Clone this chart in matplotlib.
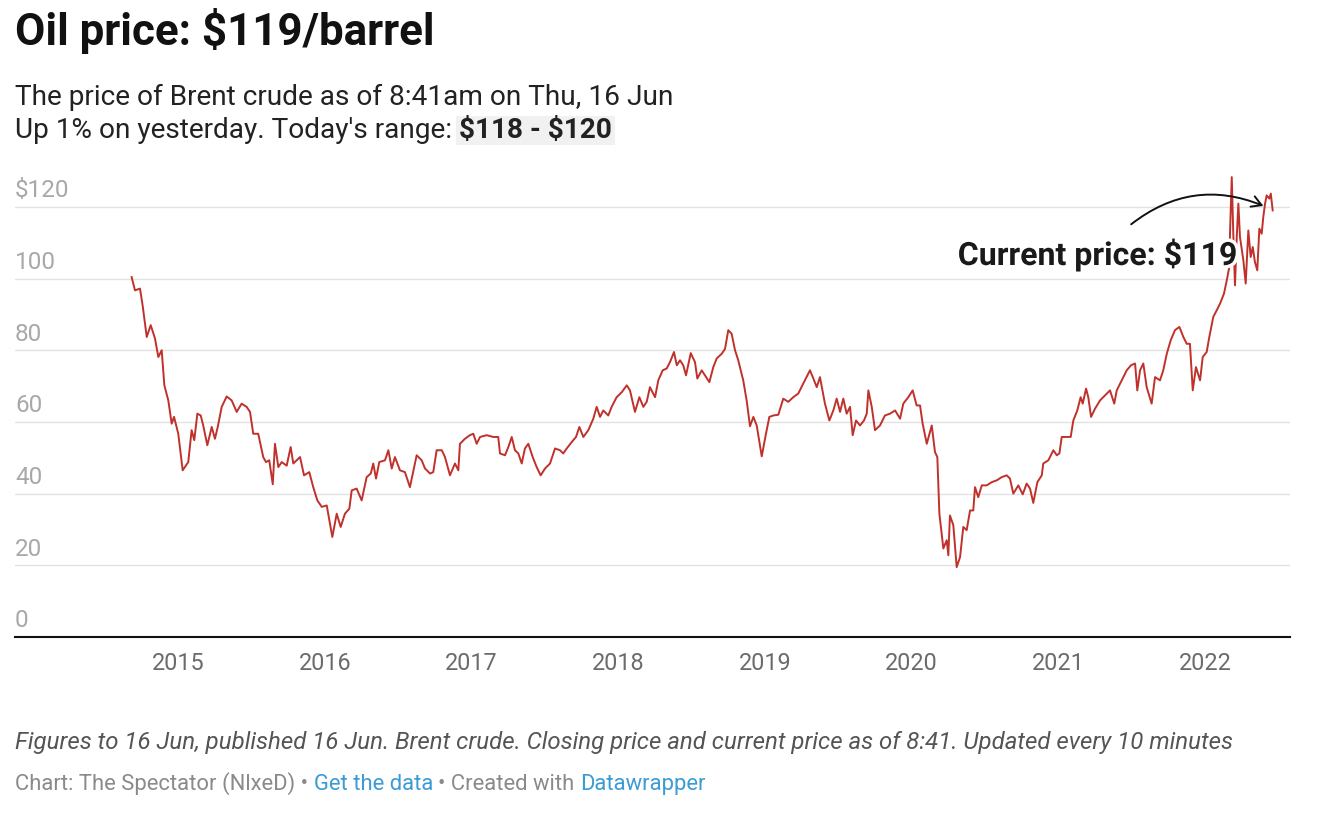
import matplotlib
matplotlib.use("Agg")
import matplotlib.pyplot as plt
import matplotlib.patheffects as pe
from matplotlib.patches import FancyArrowPatch, Rectangle

# Brent crude (decimal years, $/barrel)
years = [
    2014.684, 2014.707, 2014.741, 2014.759, 2014.787, 2014.814, 2014.843, 2014.866, 2014.889, 2014.907,
    2014.934, 2014.957, 2014.973, 2015.002, 2015.032, 2015.070, 2015.093, 2015.111, 2015.132, 2015.155,
    2015.172, 2015.200, 2015.230, 2015.252, 2015.271, 2015.298, 2015.332, 2015.366, 2015.400, 2015.434,
    2015.468, 2015.491, 2015.513, 2015.547, 2015.581, 2015.600, 2015.622, 2015.646, 2015.661, 2015.684,
    2015.707, 2015.741, 2015.768, 2015.786, 2015.832, 2015.859, 2015.895, 2015.922, 2015.950, 2015.980,
    2016.014, 2016.036, 2016.052, 2016.082, 2016.109, 2016.138, 2016.168, 2016.184, 2016.218, 2016.252,
    2016.286, 2016.314, 2016.331, 2016.350, 2016.372, 2016.411, 2016.434, 2016.457, 2016.479, 2016.513,
    2016.547, 2016.581, 2016.627, 2016.661, 2016.684, 2016.718, 2016.740, 2016.763, 2016.798, 2016.820,
    2016.854, 2016.888, 2016.911, 2016.922, 2016.956, 2016.990, 2017.013, 2017.036, 2017.059, 2017.104,
    2017.149, 2017.183, 2017.195, 2017.229, 2017.252, 2017.275, 2017.297, 2017.320, 2017.343, 2017.365,
    2017.388, 2017.418, 2017.445, 2017.472, 2017.502, 2017.536, 2017.570, 2017.604, 2017.626, 2017.650,
    2017.684, 2017.713, 2017.736, 2017.763, 2017.797, 2017.831, 2017.854, 2017.877, 2017.899, 2017.933,
    2017.956, 2017.990, 2018.025, 2018.059, 2018.081, 2018.115, 2018.145, 2018.172, 2018.195, 2018.217,
    2018.252, 2018.274, 2018.304, 2018.331, 2018.354, 2018.381, 2018.400, 2018.422, 2018.444, 2018.463,
    2018.495, 2018.524, 2018.540, 2018.570, 2018.592, 2018.622, 2018.649, 2018.672, 2018.706, 2018.729,
    2018.751, 2018.774, 2018.797, 2018.819, 2018.853, 2018.877, 2018.899, 2018.922, 2018.945, 2018.979,
    2019.008, 2019.031, 2019.058, 2019.092, 2019.126, 2019.160, 2019.194, 2019.228, 2019.262, 2019.308,
    2019.331, 2019.354, 2019.376, 2019.410, 2019.440, 2019.467, 2019.490, 2019.513, 2019.535, 2019.558,
    2019.581, 2019.599, 2019.622, 2019.649, 2019.676, 2019.695, 2019.706, 2019.729, 2019.751, 2019.785,
    2019.819, 2019.853, 2019.888, 2019.922, 2019.944, 2019.978, 2020.008, 2020.035, 2020.058, 2020.076,
    2020.104, 2020.138, 2020.160, 2020.176, 2020.190, 2020.217, 2020.240, 2020.251, 2020.262, 2020.285,
    2020.308, 2020.331, 2020.353, 2020.376, 2020.399, 2020.421, 2020.433, 2020.455, 2020.479, 2020.513,
    2020.547, 2020.581, 2020.615, 2020.649, 2020.671, 2020.694, 2020.728, 2020.758, 2020.785, 2020.808,
    2020.830, 2020.858, 2020.888, 2020.898, 2020.933, 2020.967, 2020.990, 2021.008, 2021.024, 2021.058,
    2021.085, 2021.103, 2021.130, 2021.153, 2021.167, 2021.190, 2021.205, 2021.224, 2021.251, 2021.285,
    2021.319, 2021.353, 2021.382, 2021.399, 2021.433, 2021.467, 2021.496, 2021.524, 2021.539, 2021.558,
    2021.580, 2021.603, 2021.637, 2021.660, 2021.694, 2021.716, 2021.740, 2021.767, 2021.796, 2021.826,
    2021.853, 2021.876, 2021.898, 2021.917, 2021.939, 2021.967, 2021.985, 2022.012, 2022.030, 2022.057,
    2022.080, 2022.103, 2022.130, 2022.149, 2022.166, 2022.171, 2022.183, 2022.194, 2022.205, 2022.217,
    2022.228, 2022.239, 2022.262, 2022.278, 2022.296, 2022.312, 2022.326, 2022.341, 2022.357, 2022.371,
    2022.387, 2022.398, 2022.410, 2022.421, 2022.439, 2022.449, 2022.462,
]
prices = [
    100.4, 96.7, 97.2, 92.5, 83.7, 87.0, 83.3, 78.1, 80.0, 70.2,
    66.0, 59.5, 61.4, 56.7, 46.5, 48.8, 57.7, 54.9, 62.3, 61.8,
    59.0, 53.5, 58.6, 55.3, 58.6, 64.2, 67.1, 66.0, 62.8, 65.1,
    64.2, 62.8, 56.7, 56.7, 50.2, 48.8, 49.3, 42.6, 53.9, 47.4,
    48.8, 47.8, 53.0, 48.4, 50.2, 45.1, 46.0, 41.8, 38.1, 36.3,
    36.7, 31.6, 27.9, 34.4, 30.7, 34.4, 35.8, 40.9, 41.4, 38.1,
    44.6, 45.6, 48.4, 44.2, 48.8, 49.3, 52.1, 47.0, 50.2, 46.5,
    46.0, 41.8, 50.7, 49.3, 47.0, 45.6, 46.0, 52.1, 52.1, 50.2,
    45.1, 48.4, 46.5, 53.9, 55.3, 56.3, 56.7, 53.9, 55.8, 56.3,
    55.8, 55.8, 51.2, 50.7, 53.0, 55.8, 52.1, 51.2, 48.4, 52.6,
    53.9, 50.2, 47.4, 45.1, 47.0, 48.4, 52.6, 52.1, 51.2, 52.6,
    54.4, 55.8, 58.6, 55.8, 57.7, 60.9, 64.2, 61.4, 63.2, 61.8,
    64.2, 66.9, 68.3, 70.2, 68.8, 62.8, 66.9, 64.2, 65.6, 69.7,
    66.9, 71.6, 74.4, 74.9, 76.7, 79.5, 75.8, 77.2, 75.8, 73.0,
    79.2, 76.7, 72.1, 74.4, 73.0, 71.1, 75.3, 77.7, 79.0, 80.4,
    85.6, 84.6, 80.0, 77.2, 71.6, 65.8, 58.8, 61.4, 59.0, 50.4,
    56.7, 61.4, 61.8, 62.0, 66.5, 65.6, 66.9, 67.9, 70.7, 74.4,
    72.1, 69.7, 72.5, 65.1, 60.4, 63.2, 66.5, 62.8, 66.5, 62.3,
    64.2, 56.3, 60.4, 59.0, 60.4, 62.3, 68.8, 64.2, 57.7, 59.0,
    61.8, 62.3, 63.2, 60.9, 65.1, 66.9, 68.8, 64.6, 64.6, 59.5,
    53.9, 59.0, 51.6, 50.2, 34.4, 24.7, 27.0, 22.8, 33.9, 31.2,
    19.5, 22.3, 30.7, 29.8, 35.3, 35.3, 41.8, 39.0, 42.3, 42.3,
    43.2, 43.7, 44.6, 45.1, 44.2, 40.0, 42.3, 39.8, 42.8, 41.4,
    37.4, 43.2, 45.1, 48.4, 49.3, 52.1, 50.7, 51.2, 55.8, 55.8,
    55.8, 60.4, 63.2, 66.9, 65.1, 69.3, 66.9, 61.4, 63.7, 66.0,
    67.4, 68.8, 65.1, 68.8, 71.6, 74.4, 75.8, 76.3, 68.8, 74.4,
    76.3, 69.7, 65.1, 72.5, 71.6, 74.4, 79.0, 82.8, 85.6, 86.5,
    83.7, 81.8, 81.8, 68.8, 75.3, 71.6, 78.1, 79.5, 83.7, 89.3,
    91.1, 93.0, 95.8, 99.5, 103.2, 112.5, 128.3, 111.6, 98.1, 111.6,
    120.9, 111.6, 105.1, 98.6, 113.4, 106.0, 108.8, 104.6, 102.3, 113.9,
    112.5, 117.2, 120.9, 123.2, 122.3, 123.7, 119.0,
]

x_ticks = [2015, 2016, 2017, 2018, 2019, 2020, 2021, 2022]
y_ticks = [0, 20, 40, 60, 80, 100, 120]
y_labels = ["0", "20", "40", "60", "80", "100", "$120"]

W, H = 1330, 818
plt.rcParams['font.family'] = ['Roboto', 'DejaVu Sans']

fig = plt.figure(figsize=(W / 100, H / 100), dpi=100)
fig.patch.set_facecolor('white')


def fx(x):
    return x / W


def fy(y):
    return 1 - y / H


ax = fig.add_axes([fx(15), fy(637), (1290 - 15) / W, (637 - 171) / H])
ax.set_xlim(2013.889, 2022.580)
ax.set_ylim(0, 130)

ax.plot(years, prices, color='#c0312b', lw=1.4, zorder=3, solid_joinstyle='round')

# grid + axis
ax.set_yticks(y_ticks[1:])
ax.grid(axis='y', color='#e2e2e2', lw=1.0, zorder=0)
ax.tick_params(axis='y', length=0, labelleft=False)
for side in ['top', 'right', 'left']:
    ax.spines[side].set_visible(False)
ax.spines['bottom'].set_color('#111111')
ax.spines['bottom'].set_linewidth(1.5)
ax.set_xticks(x_ticks)
ax.set_xticklabels([str(y) for y in x_ticks])
ax.tick_params(axis='x', length=0, pad=11, labelsize=16.8, labelcolor='#6b6b6b')

for v, lab in zip(y_ticks, y_labels):
    ax.annotate(lab, xy=(0, v), xycoords=ax.get_yaxis_transform(),
                xytext=(0, 7), textcoords='offset points', parse_math=False,
                ha='left', va='baseline', fontsize=17.5, color='#a8a8a8')

# header
fig.text(fx(15), fy(45), "Oil price: $119/barrel", fontsize=31.6, fontweight='bold',
         color='#111111', ha='left', va='baseline', parse_math=False)
fig.text(fx(15), fy(105), "The price of Brent crude as of 8:41am on Thu, 16 Jun",
         fontsize=20.2, color='#222222', ha='left', va='baseline')

fig.canvas.draw()
renderer = fig.canvas.get_renderer()


def space_width(size, weight='normal', style='normal'):
    a = fig.text(0, 0, "a a", fontsize=size, fontweight=weight, fontstyle=style)
    b = fig.text(0, 0, "aa", fontsize=size, fontweight=weight, fontstyle=style)
    w = a.get_window_extent(renderer).width - b.get_window_extent(renderer).width
    a.remove()
    b.remove()
    return w


def put_runs(x_px, y_px, runs, size, style='normal'):
    x = x_px
    out = []
    for txt, color, weight in runs:
        t = fig.text(x / W, fy(y_px), txt, fontsize=size, color=color, fontweight=weight,
                     fontstyle=style, ha='left', va='baseline', zorder=5, parse_math=False)
        bb = t.get_window_extent(renderer)
        out.append(t)
        x = bb.x1 + space_width(size, weight, style)
    return out


line2 = put_runs(15, 138, [("Up 1% on yesterday. Today's range:", '#222222', 'normal'),
                           ("$118 - $120", '#222222', 'bold')], 20.2)
bb = line2[1].get_window_extent(renderer)
fig.patches.append(Rectangle((bb.x0 - 3, bb.y0 - 1), bb.width + 6, bb.height + 2,
                             transform=None, facecolor='#f1f1f1', edgecolor='none',
                             zorder=1, figure=fig))

# annotation
fig.text(fx(1238), fy(265), "Current price: $119", fontsize=23.1, fontweight='bold',
         color='#1a1a1a', ha='right', va='baseline', zorder=6, parse_math=False,
         path_effects=[pe.withStroke(linewidth=5, foreground='white')])
arrow = FancyArrowPatch((fx(1129), fy(226)), (fx(1266), fy(207)),
                        transform=fig.transFigure, connectionstyle="arc3,rad=-0.3",
                        arrowstyle="->,head_length=7,head_width=4", color='#111111',
                        lw=1.4, zorder=7)
fig.patches.append(arrow)

# footer
fig.text(fx(15), fy(749), "Figures to 16 Jun, published 16 Jun. Brent crude. Closing price and "
         "current price as of 8:41. Updated every 10 minutes",
         fontsize=17.3, fontstyle='italic', color='#555555', ha='left', va='baseline')
put_runs(15, 790, [("Chart: The Spectator (NlxeD) \u2022", '#8a8a8a', 'normal'),
                   ("Get the data", '#3b9bd4', 'normal'),
                   ("\u2022 Created with", '#8a8a8a', 'normal'),
                   ("Datawrapper", '#3b9bd4', 'normal')], 15.8)

fig.savefig("out.png", dpi=100, facecolor='white')
